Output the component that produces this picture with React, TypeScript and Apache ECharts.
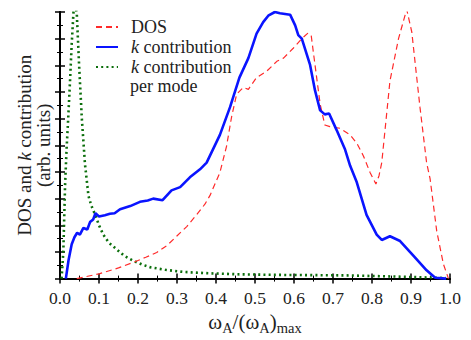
import React, { useEffect, useRef } from "react";
import * as echarts from "echarts";

const xTicks = [0, 0.1, 0.2, 0.3, 0.4, 0.5, 0.6, 0.7, 0.8, 0.9, 1.0];

const dosX = [0.043, 0.1, 0.15, 0.188, 0.22, 0.248, 0.275, 0.299, 0.325, 0.35, 0.372, 0.385, 0.41, 0.427, 0.44, 0.453, 0.47, 0.483, 0.504, 0.53, 0.556, 0.573, 0.598, 0.62, 0.635, 0.644, 0.654, 0.667, 0.679, 0.692, 0.718, 0.744, 0.761, 0.778, 0.795, 0.81, 0.818, 0.825, 0.846, 0.868, 0.889, 0.902, 0.923, 0.94, 0.949, 0.966, 0.983, 0.996];
const dosY = [0, 0.18, 0.4, 0.61, 0.8, 0.98, 1.25, 1.59, 1.95, 2.39, 2.8, 3.13, 3.98, 4.96, 6.07, 6.92, 7.17, 7.1, 7.54, 7.78, 8.15, 8.27, 8.64, 9.0, 9.2, 9.13, 8.0, 6.55, 5.76, 5.7, 5.64, 5.39, 5.08, 4.6, 3.98, 3.55, 3.86, 4.35, 7.41, 9.0, 10.1, 9.25, 6.43, 4.35, 3.74, 1.78, 0.55, 0];

const kX = [0.015, 0.022, 0.03, 0.037, 0.044, 0.051, 0.06, 0.07, 0.077, 0.085, 0.091, 0.1, 0.115, 0.128, 0.14, 0.154, 0.18, 0.205, 0.225, 0.239, 0.263, 0.286, 0.308, 0.333, 0.359, 0.376, 0.41, 0.436, 0.46, 0.483, 0.504, 0.521, 0.534, 0.551, 0.564, 0.59, 0.603, 0.611, 0.62, 0.641, 0.654, 0.667, 0.679, 0.69, 0.709, 0.731, 0.744, 0.761, 0.786, 0.812, 0.825, 0.846, 0.872, 0.906, 0.94, 0.962, 0.99];
const kY = [0, 0.7, 1.29, 1.55, 1.72, 1.65, 1.9, 1.84, 2.12, 2.22, 2.45, 2.33, 2.38, 2.43, 2.45, 2.6, 2.72, 2.88, 2.93, 3.0, 2.94, 3.31, 3.43, 3.8, 4.1, 4.35, 5.39, 6.43, 7.54, 8.27, 9.19, 9.62, 9.86, 10.0, 9.95, 9.9, 9.5, 9.13, 9.0, 8.03, 7.05, 6.31, 6.16, 6.19, 5.58, 4.84, 4.23, 3.61, 2.39, 1.65, 1.45, 1.59, 1.41, 0.86, 0.31, 0.03, 0];

const modeX = [0.004, 0.0085, 0.013, 0.017, 0.021, 0.026, 0.03, 0.035, 0.039, 0.043, 0.049, 0.056, 0.064, 0.073, 0.08, 0.09, 0.1, 0.111, 0.125, 0.145, 0.165, 0.188, 0.21, 0.23, 0.27, 0.316, 0.38, 0.46, 0.55, 0.65, 0.735, 0.85, 0.95, 0.99];
const modeY = [0, 1.0, 3.5, 4.9, 6.0, 7.5, 8.8, 10.1, 10.3, 9.95, 8.0, 6.0, 4.3, 3.1, 2.75, 2.4, 2.0, 1.65, 1.35, 1.1, 0.85, 0.67, 0.53, 0.43, 0.33, 0.25, 0.2, 0.16, 0.14, 0.13, 0.12, 0.08, 0.04, 0.02];

const seriesNames = ["DOS", "k contribution", "k contribution per mode"];

const zip = (xs: number[], ys: number[]) => xs.map((x, i) => [x, ys[i]]);

const FONT = "Liberation Serif";
const TXT = "#222";

export default function App() {
  const ref = useRef<HTMLDivElement>(null);
  useEffect(() => {
    if (!ref.current) return;
    const chart = echarts.init(ref.current, undefined, { renderer: "svg" });
    const frameLine = { show: true, lineStyle: { color: "#000", width: 2 } };
    const majorTick = { show: true, inside: true, length: 5, lineStyle: { color: "#000", width: 1.5 } };
    const minorTick = { show: true, splitNumber: 2, length: 3, lineStyle: { color: "#000", width: 1 } };
    const baseX = {
      type: "value" as const,
      min: 0,
      max: 1,
      interval: 0.1,
      axisLine: frameLine,
      axisTick: majorTick,
      minorTick,
      splitLine: { show: false },
    };
    const baseY = {
      type: "value" as const,
      min: 0,
      max: 10,
      interval: 1,
      axisLine: frameLine,
      axisTick: majorTick,
      minorTick,
      splitLine: { show: false },
      axisLabel: { show: false },
    };
    chart.setOption({
      animation: false,
      grid: { left: 60, right: 21, top: 12, bottom: 55, containLabel: false },
      legend: {
        orient: "vertical",
        left: 95,
        top: 17,
        padding: 0,
        itemGap: 0,
        itemWidth: 22,
        itemHeight: 12,
        itemStyle: { opacity: 0 },
        data: seriesNames.map((n) => ({ name: n })),
        formatter: (name: string) => (name === "DOS" ? "{a|DOS}" : "{i|k}{a| contribution}"),
        textStyle: {
          fontFamily: FONT,
          fontSize: 18,
          color: TXT,
          lineHeight: 20,
          padding: [0, 0, 0, 8],
          rich: {
            a: { fontFamily: FONT, fontSize: 18, color: TXT, lineHeight: 20 },
            i: { fontFamily: FONT, fontSize: 18, color: TXT, fontStyle: "italic", lineHeight: 20 },
          },
        },
      },
      graphic: [
        {
          type: "text",
          left: 130,
          top: 77,
          style: { text: "per mode", fontFamily: FONT, fontSize: 18, fill: TXT },
        },
      ],
      xAxis: [
        {
          ...baseX,
          position: "bottom",
          axisLabel: {
            show: true,
            fontFamily: FONT,
            fontSize: 17.5,
            color: TXT,
            margin: 10,
            formatter: (v: number) => {
              const t = xTicks.find((x) => Math.abs(x - v) < 1e-6);
              return t === undefined ? "" : t.toFixed(1);
            },
          },
          name: "{w|ω}{s|A}{w|/(ω}{s|A}{w|)}{s|max}",
          nameLocation: "middle",
          nameGap: 30,
          nameTextStyle: {
            rich: {
              w: { fontFamily: FONT, fontSize: 21, color: TXT },
              s: { fontFamily: FONT, fontSize: 14.5, color: TXT, padding: [11, 0, 0, 0] },
            },
          },
        },
        { ...baseX, position: "top", axisLabel: { show: false } },
      ],
      yAxis: [
        {
          ...baseY,
          position: "left",
          name: "{a|DOS and }{i|k}{a| contribution}\n{a|(arb. units)}",
          nameLocation: "middle",
          nameGap: 7,
          nameTextStyle: {
            align: "center",
            rich: {
              a: { fontFamily: FONT, fontSize: 19, color: TXT, lineHeight: 19 },
              i: { fontFamily: FONT, fontSize: 19, color: TXT, fontStyle: "italic", lineHeight: 19 },
            },
          },
        },
        { ...baseY, position: "right" },
      ],
      series: [
        {
          name: seriesNames[0],
          type: "line",
          data: zip(dosX, dosY),
          showSymbol: false,
          symbol: "none",
          lineStyle: { color: "#ff2a2a", width: 1.2, type: [6, 4] },
          itemStyle: { color: "#ff2a2a" },
          z: 3,
        },
        {
          name: seriesNames[1],
          type: "line",
          data: zip(kX, kY),
          showSymbol: false,
          symbol: "none",
          lineStyle: { color: "#0a14ff", width: 2.6 },
          itemStyle: { color: "#0a14ff" },
          z: 4,
        },
        {
          name: seriesNames[2],
          type: "line",
          data: zip(modeX, modeY),
          showSymbol: false,
          symbol: "none",
          lineStyle: { color: "#0b6e0b", width: 2.6, type: [2, 3.2] },
          itemStyle: { color: "#0b6e0b" },
          z: 2,
        },
      ],
    });
    return () => chart.dispose();
  }, []);
  return <div ref={ref} style={{ width: 471, height: 340, position: "absolute", left: 0, top: 0 }} />;
}
